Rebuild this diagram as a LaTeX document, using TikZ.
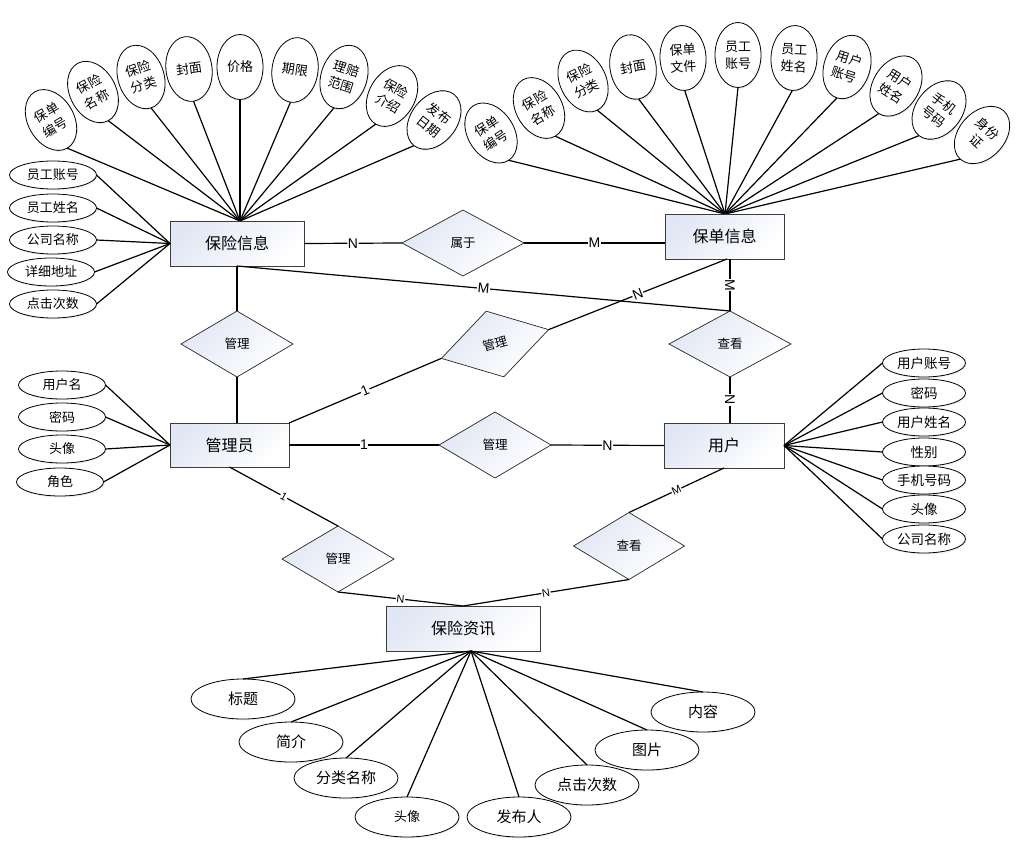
\documentclass[tikz,border=0pt]{standalone}
\usepackage{fontspec}
\setmainfont{Liberation Sans}
\newfontfamily\cjk{Noto Sans CJK SC}
\usetikzlibrary{shapes.geometric,shadows}
\definecolor{shadecol}{RGB}{226,231,245}
\definecolor{boxline}{RGB}{60,60,60}
\tikzset{
  ent/.style={rectangle, draw=boxline, line width=0.9pt, top color=shadecol, bottom color=white, shading angle=45,
    font=\cjk\fontsize{16}{16}\selectfont, inner sep=0pt, outer sep=0pt},
  rel/.style={diamond, draw=black!85, line width=0.7pt, top color=shadecol, bottom color=white, shading angle=45,
    font=\cjk\fontsize{12.5}{12.5}\selectfont, inner sep=0pt, outer sep=0pt},
  attrbase/.style={ellipse, draw, line width=0.8pt, fill=white, inner sep=0pt, outer sep=0pt,
    drop shadow={opacity=0.12, shadow xshift=1pt, shadow yshift=-1.5pt}},
  hattr/.style={attrbase, font=\cjk\fontsize{13}{13}\selectfont, minimum width=87, minimum height=28},
  rattr/.style={attrbase, font=\cjk\fontsize{13.5}{13.5}\selectfont, minimum width=83, minimum height=28},
  vattr/.style={attrbase, font=\cjk\fontsize{13}{17}\selectfont, align=center, minimum width=46, minimum height=65},
  battr/.style={attrbase, font=\cjk\fontsize{15}{15}\selectfont, minimum width=104, minimum height=40},
  conn/.style={line width=1.2pt, black},
  lab/.style={fill=white, inner sep=0.6pt, sloped, font=\fontsize{14}{14}\selectfont},
  slab/.style={lab, font=\fontsize{11}{11}\selectfont},
}
\begin{document}
\begin{tikzpicture}[x=1pt,y=-1pt]
\useasboundingbox (0,0) rectangle (1019,851);

% hubs
\coordinate (hubA) at (240,221);
\coordinate (hubB) at (725,214);
\coordinate (hubC) at (471,651);
\coordinate (bdS) at (727,259);

% ---------- connectors of attributes (drawn first) ----------
% top-left attributes of 保险信息
\node[vattr, rotate=30]  (tl1) at (51,120)  {保单\\编号};
\node[vattr, rotate=28]  (tl2) at (93,92)   {保险\\名称};
\node[vattr, rotate=18]  (tl3) at (141,77)  {保险\\分类};
\node[vattr, rotate=8]   (tl4) at (189,69)  {封面};
\node[vattr]             (tl5) at (240,67)  {价格};
\node[vattr, rotate=-8]  (tl6) at (295,70)  {期限};
\node[vattr, rotate=-18] (tl7) at (344,77)  {理赔\\范围};
\node[vattr, rotate=-30] (tl8) at (392,96)  {保险\\介绍};
\node[vattr, rotate=-38] (tl9) at (434,120) {发布\\日期};
\foreach \n in {tl1,tl2,tl3,tl4,tl5,tl6,tl7,tl8,tl9} \draw[conn] (hubA) -- (\n.south);

% top-right attributes of 保单信息
\node[vattr, rotate=33]  (tr1)  at (491,133) {保单\\编号};
\node[vattr, rotate=30]  (tr2)  at (539,108) {保险\\名称};
\node[vattr, rotate=26]  (tr3)  at (583,81)  {保险\\分类};
\node[vattr, rotate=10]  (tr4)  at (633,67)  {封面};
\node[vattr, rotate=3]   (tr5)  at (683,58)  {保单\\文件};
\node[vattr]             (tr6)  at (738,55)  {员工\\账号};
\node[vattr, rotate=-3]  (tr7)  at (794,58)  {员工\\姓名};
\node[vattr, rotate=-18] (tr8)  at (847,67)  {用户\\账号};
\node[vattr, rotate=-32] (tr9)  at (896,86)  {用户\\姓名};
\node[vattr, rotate=-38] (tr10) at (939,110) {手机\\号码};
\node[vattr, rotate=-42] (tr11) at (982,135) {身份\\证};
\foreach \n in {tr1,tr2,tr3,tr4,tr5,tr6,tr7,tr8,tr9,tr10,tr11} \draw[conn] (hubB) -- (\n.south);

% ---------- entities ----------
\node[ent, minimum width=134, minimum height=45] (bx) at (237,243.5) {保险信息};
\node[ent, minimum width=119, minimum height=45] (bd) at (724.5,236.5) {保单信息};
\node[ent, minimum width=119, minimum height=44] (gl) at (229.5,445) {管理员};
\node[ent, minimum width=120, minimum height=45] (yh) at (724,445.5) {用户};
\node[ent, minimum width=154, minimum height=45] (zx) at (463,628.5) {保险资讯};

% left attributes of 保险信息
\node[hattr] (la1) at (53,175) {员工账号};
\node[hattr] (la2) at (53,208) {员工姓名};
\node[hattr] (la3) at (53,240) {公司名称};
\node[hattr] (la4) at (51,272) {详细地址};
\node[hattr] (la5) at (53,304) {点击次数};
\foreach \n in {la1,la2,la3,la4,la5} \draw[conn] (bx.west) -- (\n.east);

% attributes of 管理员
\node[hattr] (ga1) at (62,385) {用户名};
\node[hattr] (ga2) at (62,417) {密码};
\node[hattr] (ga3) at (62,449) {头像};
\node[hattr] (ga4) at (60,482) {角色};
\foreach \n in {ga1,ga2,ga3,ga4} \draw[conn] (gl.west) -- (\n.east);

% attributes of 用户
\node[rattr] (ua1) at (924,363) {用户账号};
\node[rattr] (ua2) at (924,393) {密码};
\node[rattr] (ua3) at (924,422) {用户姓名};
\node[rattr] (ua4) at (924,452) {性别};
\node[rattr] (ua5) at (924,480) {手机号码};
\node[rattr] (ua6) at (924,509) {头像};
\node[rattr] (ua7) at (924,539) {公司名称};
\foreach \n in {ua1,ua2,ua3,ua4,ua5,ua6,ua7} \draw[conn] (yh.east) -- (\n.west);

% attributes of 保险资讯
\node[battr] (ba1) at (243,699) {标题};
\node[battr] (ba2) at (291,742) {简介};
\node[battr] (ba3) at (346,778) {分类名称};
\node[battr, font=\cjk\fontsize{13}{13}\selectfont] (ba4) at (407,817) {头像};
\node[battr] (ba5) at (519,817) {发布人};
\node[battr] (ba6) at (587,785) {点击次数};
\node[battr] (ba7) at (647,750) {图片};
\node[battr] (ba8) at (703,712) {内容};
\foreach \n in {ba1,ba2,ba3,ba4,ba5,ba6,ba7,ba8} \draw[conn] (hubC) -- (\n.north);

% ---------- relationships ----------
\node[rel, minimum width=122, minimum height=66] (sy)  at (463,243) {属于};
\node[rel, minimum width=112, minimum height=66] (gl1) at (237,344) {管理};
\node[rel, minimum width=122, minimum height=66] (ck1) at (730,344) {查看};
\node[rel, minimum width=111, minimum height=68, rotate=15] (glm) at (495,344) {管理};
\node[rel, minimum width=112, minimum height=66] (gl2) at (495,445) {管理};
\node[rel, minimum width=112, minimum height=66] (gl3) at (338,559) {管理};
\node[rel, minimum width=111, minimum height=67] (ck2) at (629,546) {查看};

% ---------- relationship connectors ----------
\draw[conn] (bx.east) -- node[lab]{N} (sy.west);
\draw[conn] (sy.east) -- node[lab]{M} (sy.east -| bd.west);
\draw[conn] (bx.south) -- (gl1.north);
\draw[conn] (gl1.south) -- (gl1.south |- gl.north);
\draw[conn] (bx.south) -- node[lab]{M} (ck1.north);
\draw[conn] (ck1.north |- bd.south) -- node[lab]{M} (ck1.north);
\draw[conn] (ck1.south) -- node[lab]{N} (ck1.south |- yh.north);
\draw[conn] (gl.north east) -- node[lab]{1} (glm.west);
\draw[conn] (glm.east) -- node[lab]{N} (bdS);
\draw[conn] (gl.east) -- node[lab]{1} (gl2.west);
\draw[conn] (gl2.east) -- node[lab]{N} (yh.west);
\draw[conn] (gl.south) -- node[slab]{1} (gl3.north);
\draw[conn] (gl3.south) -- node[slab]{N} (zx.north);
\draw[conn] (ck2.north) -- node[slab]{M} (yh.south);
\draw[conn] (ck2.south) -- node[slab]{N} (zx.north);
\end{tikzpicture}
\end{document}
